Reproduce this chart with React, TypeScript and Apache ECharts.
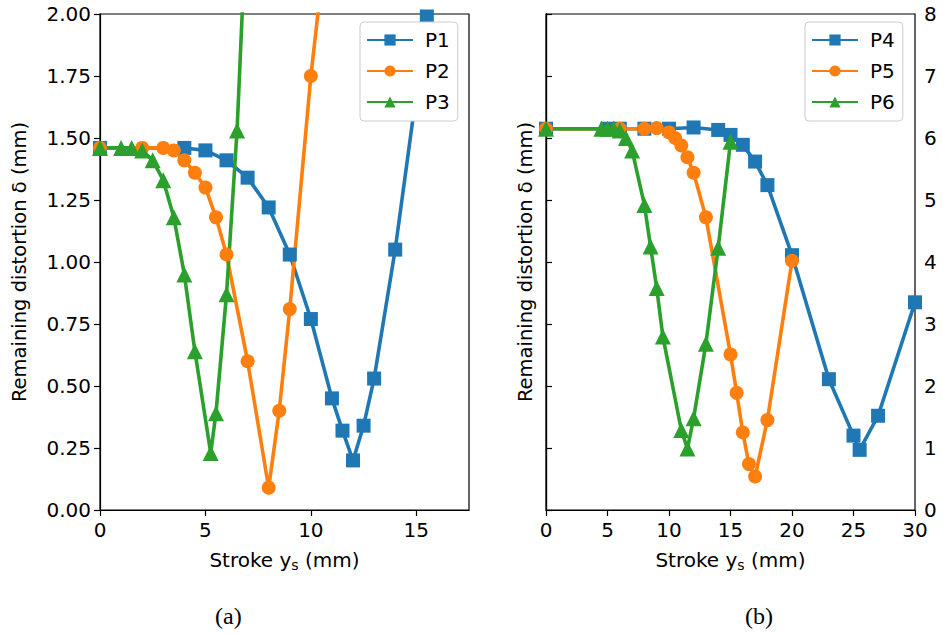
import React, { useEffect, useRef } from "react";
import * as echarts from "echarts";

const p1X = [0, 4, 5, 6, 7, 8, 9, 10, 11, 11.5, 12, 12.5, 13, 14, 15.5];
const p1Y = [1.46, 1.46, 1.45, 1.41, 1.34, 1.22, 1.03, 0.77, 0.45, 0.32, 0.2, 0.34, 0.53, 1.05, 1.99];
const p2X = [0, 2, 3, 3.5, 4, 4.5, 5, 5.5, 6, 7, 8, 8.5, 9, 10, 11];
const p2Y = [1.46, 1.46, 1.46, 1.45, 1.41, 1.36, 1.3, 1.18, 1.03, 0.6, 0.09, 0.4, 0.81, 1.75, 2.5];
const p3X = [0, 1, 1.5, 2, 2.5, 3, 3.5, 4, 4.5, 5.25, 5.5, 6, 6.5, 7];
const p3Y = [1.46, 1.46, 1.46, 1.45, 1.41, 1.33, 1.18, 0.95, 0.64, 0.23, 0.39, 0.87, 1.53, 2.5];

const p4X = [0, 5, 6, 8, 10, 12, 14, 15, 16, 17, 18, 20, 23, 25, 25.5, 27, 30];
const p4Y = [6.15, 6.15, 6.15, 6.15, 6.15, 6.17, 6.13, 6.05, 5.89, 5.62, 5.24, 4.11, 2.11, 1.2, 0.97, 1.52, 3.35];
const p5X = [0, 6, 8, 9, 10, 10.5, 11, 11.5, 12, 13, 15, 15.5, 16, 16.5, 17, 18, 20];
const p5Y = [6.15, 6.15, 6.15, 6.16, 6.09, 6.0, 5.88, 5.69, 5.44, 4.72, 2.51, 1.89, 1.25, 0.74, 0.54, 1.45, 4.02];
const p6X = [0, 4.5, 5, 5.5, 6, 6.5, 7, 8, 8.5, 9, 9.5, 11, 11.5, 12, 13, 14, 15];
const p6Y = [6.15, 6.15, 6.15, 6.15, 6.12, 6.0, 5.8, 4.92, 4.25, 3.58, 2.8, 1.29, 0.99, 1.48, 2.68, 4.23, 5.94];

const leftNames = ["P1", "P2", "P3"];
const rightNames = ["P4", "P5", "P6"];
const colors = ["#1f77b4", "#ff7f0e", "#2ca02c"];
const symbols = ["rect", "circle", "triangle"];
const symbolSizes = [14, 14, 16];

const FONT = "DejaVu Sans";
const FS = 20;
const FS_Y = 19.5;

const zip = (xs: number[], ys: number[]) => xs.map((x, i) => [x, ys[i]]);

export default function App() {
  const ref = useRef<HTMLDivElement>(null);
  useEffect(() => {
    if (!ref.current) return;
    const chart = echarts.init(ref.current, undefined, { renderer: "svg" });
    const axisLine = { show: true, lineStyle: { color: "#000", width: 1.2 } };
    const axisTick = { show: true, length: 6, lineStyle: { color: "#000", width: 1.2 } };
    const label = { color: "#000", fontFamily: FONT, fontSize: FS };
    const xName = "Stroke y{sub|s} (mm)";
    const xNameStyle = {
      color: "#000",
      fontFamily: FONT,
      fontSize: FS,
      rich: {
        sub: { fontFamily: FONT, fontSize: 14, color: "#000", padding: [10, 0, 0, 0] },
      },
    };
    const yName = "Remaining distortion δ (mm)";
    const leftData = [zip(p1X, p1Y), zip(p2X, p2Y), zip(p3X, p3Y)];
    const rightData = [zip(p4X, p4Y), zip(p5X, p5Y), zip(p6X, p6Y)];
    const mkSeries = (names: string[], data: number[][][], xi: number, yi: number) =>
      names.map((n, i) => ({
        name: n,
        type: "line",
        xAxisIndex: xi,
        yAxisIndex: yi,
        data: data[i],
        symbol: symbols[i],
        symbolSize: symbolSizes[i],
        showAllSymbol: true,
        clip: true,
        lineStyle: { color: colors[i], width: 3.6 },
        itemStyle: { color: colors[i], borderWidth: 0 },
        emphasis: { disabled: true },
      }));
    const legendBase = {
      orient: "vertical",
      itemWidth: 46,
      itemHeight: 14,
      itemGap: 11,
      padding: [8, 8, 9, 6],
      backgroundColor: "#fff",
      borderColor: "#ccc",
      borderWidth: 1,
      borderRadius: 4,
      textStyle: { color: "#000", fontFamily: FONT, fontSize: FS, lineHeight: 18, padding: [0, 0, 0, 7] },
    };
    chart.setOption({
      animation: false,
      grid: [
        { left: 100, right: 474, top: 14, bottom: 125, show: true, borderColor: "#000", borderWidth: 1.2, backgroundColor: "transparent" },
        { left: 546, right: 28, top: 14, bottom: 125, show: true, borderColor: "#000", borderWidth: 1.2, backgroundColor: "transparent" },
      ],
      xAxis: [
        {
          type: "value", gridIndex: 0, min: 0, max: 17.5, interval: 5,
          axisLine, axisTick, splitLine: { show: false },
          axisLabel: { ...label, margin: 10, showMaxLabel: false },
          name: xName, nameLocation: "middle", nameGap: 38, nameTextStyle: xNameStyle,
        },
        {
          type: "value", gridIndex: 1, min: 0, max: 30, interval: 5,
          axisLine, axisTick, splitLine: { show: false },
          axisLabel: { ...label, margin: 10 },
          name: xName, nameLocation: "middle", nameGap: 38, nameTextStyle: xNameStyle,
        },
      ],
      yAxis: [
        {
          type: "value", gridIndex: 0, min: 0, max: 2, interval: 0.25,
          axisLine, axisTick, splitLine: { show: false },
          axisLabel: { ...label, margin: 9, formatter: (v: number) => v.toFixed(2) },
          name: yName, nameLocation: "middle", nameGap: 71, nameRotate: 90,
          nameTextStyle: { color: "#000", fontFamily: FONT, fontSize: FS_Y },
        },
        {
          type: "value", gridIndex: 1, min: 0, max: 8, interval: 1, position: "right",
          axisLine, axisTick, splitLine: { show: false },
          axisLabel: { ...label, margin: 9 },
        },
        {
          type: "value", gridIndex: 1, min: 0, max: 8, interval: 1, position: "left",
          axisLine, axisTick: { show: false }, splitLine: { show: false },
          axisLabel: { show: false },
          name: yName, nameLocation: "middle", nameGap: 11, nameRotate: 90,
          nameTextStyle: { color: "#000", fontFamily: FONT, fontSize: FS_Y },
        },
      ],
      legend: [
        { ...legendBase, data: leftNames, left: 360, top: 22 },
        { ...legendBase, data: rightNames, left: 805, top: 22 },
      ],
      series: [...mkSeries(leftNames, leftData, 0, 0), ...mkSeries(rightNames, rightData, 1, 1)],
      graphic: [
        { type: "text", left: 215, top: 604, style: { text: "(a)", fontFamily: "Liberation Serif", fontSize: 24, fill: "#000" } },
        { type: "text", left: 745, top: 604, style: { text: "(b)", fontFamily: "Liberation Serif", fontSize: 24, fill: "#000" } },
      ],
    });
    return () => chart.dispose();
  }, []);
  return <div ref={ref} style={{ position: "absolute", left: 0, top: 0, width: 943, height: 635 }} />;
}
